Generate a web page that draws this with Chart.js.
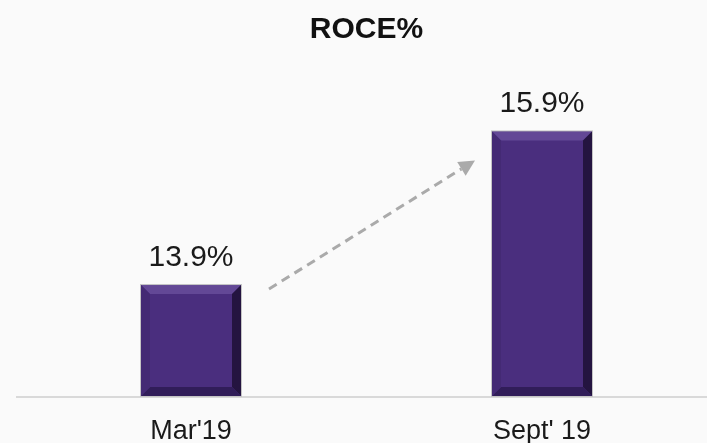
<!DOCTYPE html>
<html>
<head>
<meta charset="utf-8">
<title>ROCE%</title>
<script src="https://cdn.jsdelivr.net/npm/chart.js@4.4.1/dist/chart.umd.min.js"></script>
<style>
    html, body { margin: 0; padding: 0; background: #fafafa; }
    #wrap { width: 707px; height: 443px; position: relative; }
</style>
</head>
<body>
<div id="wrap"><canvas id="roceChart"></canvas></div>
<script>
// ROCE% comparison
const periods = ["Mar'19", "Sept' 19"];
const roceValues = [13.9, 15.9];
const yMin = 12.455;
const yMax = 16.83;

const barFace = '#4a2e7e';
const fontFamily = "'Liberation Sans', Arial, sans-serif";

// page background
const bgPlugin = {
    id: 'bg',
    beforeDraw(chart) {
        const ctx = chart.ctx;
        ctx.save();
        ctx.fillStyle = '#fafafa';
        ctx.fillRect(0, 0, chart.width, chart.height);
        ctx.restore();
    }
};

// baseline that runs past the plot area
const baselinePlugin = {
    id: 'baseline',
    beforeDatasetsDraw(chart) {
        const ctx = chart.ctx;
        const y = chart.chartArea.bottom + 1;
        ctx.save();
        ctx.strokeStyle = '#d9d9d9';
        ctx.lineWidth = 2;
        ctx.beginPath();
        ctx.moveTo(16, y);
        ctx.lineTo(chart.width, y);
        ctx.stroke();
        ctx.restore();
    }
};

// bevel look, value labels and trend arrow
const barDecor = {
    id: 'barDecor',
    afterDatasetsDraw(chart) {
        const ctx = chart.ctx;
        const bars = chart.getDatasetMeta(0).data;
        const rects = bars.map(bar => {
            const p = bar.getProps(['x', 'y', 'base', 'width'], true);
            return { l: p.x - p.width / 2, r: p.x + p.width / 2, t: p.y, b: p.base, cx: p.x };
        });
        ctx.save();
        rects.forEach((rc, i) => {
            const k = 9;
            const poly = (pts, color) => {
                ctx.fillStyle = color;
                ctx.beginPath();
                ctx.moveTo(pts[0][0], pts[0][1]);
                pts.slice(1).forEach(pt => ctx.lineTo(pt[0], pt[1]));
                ctx.closePath();
                ctx.fill();
            };
            poly([[rc.l, rc.t], [rc.r, rc.t], [rc.r - k, rc.t + k], [rc.l + k, rc.t + k]], '#634896');
            poly([[rc.r, rc.t], [rc.r, rc.b], [rc.r - k, rc.b - k], [rc.r - k, rc.t + k]], '#241440');
            poly([[rc.l, rc.b], [rc.r, rc.b], [rc.r - k, rc.b - k], [rc.l + k, rc.b - k]], '#311d59');
            poly([[rc.l, rc.t], [rc.l + k, rc.t + k], [rc.l + k, rc.b - k], [rc.l, rc.b]], '#442a74');
            ctx.strokeStyle = '#c4c4c4';
            ctx.lineWidth = 1;
            ctx.strokeRect(rc.l - 0.5, rc.t - 0.5, rc.r - rc.l + 1, rc.b - rc.t + 1);

            ctx.fillStyle = '#1a1a1a';
            ctx.font = '30px ' + fontFamily;
            ctx.textAlign = 'center';
            ctx.textBaseline = 'alphabetic';
            ctx.fillText(roceValues[i].toFixed(1) + '%', rc.cx, rc.t - 19);
        });

        // dashed arrow between the two bars
        if (rects.length > 1) {
            const a = rects[0], b = rects[1];
            const x1 = a.r + 28, y1 = a.t + 4;
            const x2 = b.l - 17, y2 = b.t + 29;
            const ang = Math.atan2(y2 - y1, x2 - x1);
            const head = 16, half = 8;
            const hx = x2 - head * Math.cos(ang), hy = y2 - head * Math.sin(ang);
            ctx.strokeStyle = '#aaaaaa';
            ctx.fillStyle = '#aaaaaa';
            ctx.lineWidth = 3;
            ctx.setLineDash([9, 6]);
            ctx.beginPath();
            ctx.moveTo(x1, y1);
            ctx.lineTo(hx, hy);
            ctx.stroke();
            ctx.setLineDash([]);
            ctx.beginPath();
            ctx.moveTo(x2, y2);
            ctx.lineTo(hx + half * Math.sin(ang), hy - half * Math.cos(ang));
            ctx.lineTo(hx - half * Math.sin(ang), hy + half * Math.cos(ang));
            ctx.closePath();
            ctx.fill();
        }
        ctx.restore();
    }
};

function renderChart() {
    const canvas = document.getElementById('roceChart');
    if (!canvas)
        return;
    new Chart(canvas, {
        type: 'bar',
        data: {
            labels: periods,
            datasets: [{
                label: 'ROCE%',
                data: roceValues,
                base: yMin,
                backgroundColor: barFace,
                borderWidth: 0,
                barThickness: 100,
                clip: false
            }]
        },
        options: {
            responsive: true,
            maintainAspectRatio: false,
            animation: false,
            layout: {
                padding: { left: 191, right: 165, top: 0, bottom: 0 }
            },
            scales: {
                x: {
                    offset: false,
                    grid: { display: false, drawTicks: false },
                    border: { display: false },
                    ticks: {
                        padding: 22,
                        color: '#1a1a1a',
                        maxRotation: 0,
                        autoSkip: false,
                        font: { family: fontFamily, size: 27, lineHeight: 1 }
                    },
                    afterFit(scale) {
                        scale.height = 47;
                    }
                },
                y: {
                    display: false,
                    min: yMin,
                    max: yMax
                }
            },
            plugins: {
                legend: { display: false },
                tooltip: { enabled: false },
                title: {
                    display: true,
                    text: 'ROCE%',
                    fullSize: false,
                    color: '#111111',
                    font: { family: fontFamily, size: 30, weight: 'bold', lineHeight: 1.2 },
                    padding: { top: 12, bottom: 12 }
                }
            }
        },
        plugins: [bgPlugin, baselinePlugin, barDecor]
    });
}

renderChart();
</script>
</body>
</html>
